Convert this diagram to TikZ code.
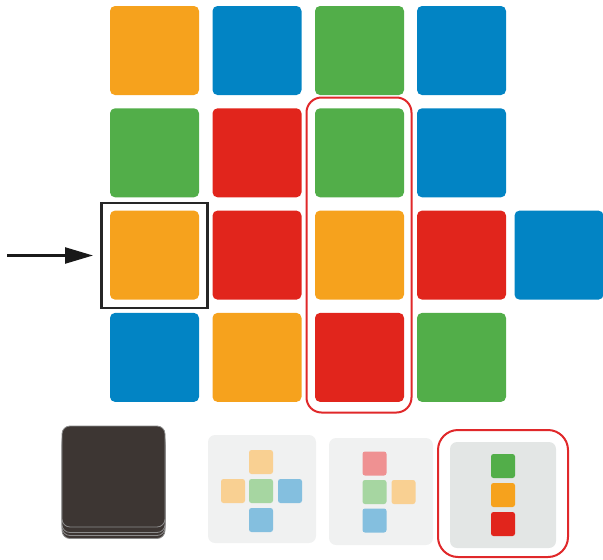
\documentclass[tikz,border=0pt]{standalone}
\usetikzlibrary{arrows.meta}
\definecolor{cOr}{HTML}{F6A21D}
\definecolor{cBl}{HTML}{0284C4}
\definecolor{cGr}{HTML}{52AE49}
\definecolor{cRd}{HTML}{E1251C}
\definecolor{pOr}{HTML}{F9D092}
\definecolor{pBl}{HTML}{84BFDF}
\definecolor{pGr}{HTML}{A6D6A1}
\definecolor{pRd}{HTML}{EF9192}
\definecolor{dark}{HTML}{3D3633}
\definecolor{cardA}{HTML}{F0F1F1}
\definecolor{cardB}{HTML}{E3E6E5}
\definecolor{frameRed}{HTML}{E0282A}
\tikzset{
  tile/.style={rectangle, rounded corners=5pt, minimum size=89pt, inner sep=0pt, fill=#1},
  mini/.style={rectangle, rounded corners=2.5pt, minimum size=24pt, inner sep=0pt, fill=#1},
  card/.style={rectangle, rounded corners=7pt, inner sep=0pt, fill=#1},
  darkcard/.style={rectangle, rounded corners=8pt, inner sep=0pt, minimum width=103pt, minimum height=101pt, fill=dark, draw=black!45, line width=0.8pt},
  redframe/.style={rectangle, draw=frameRed, line width=2pt, inner sep=0pt},
}
\begin{document}
\begin{tikzpicture}[x=1pt,y=-1pt]
\useasboundingbox (0,0) rectangle (603,560);
% grid row 0
\node[tile=cOr] (t00) at (154.5,50.5) {};
\node[tile=cBl] (t01) at (257,50.5) {};
\node[tile=cGr] (t02) at (359.5,50.5) {};
\node[tile=cBl] (t03) at (461.5,50.5) {};
% row 1
\node[tile=cGr] (t10) at (154.5,152.8) {};
\node[tile=cRd] (t11) at (257,152.8) {};
\node[tile=cGr] (t12) at (359.5,152.8) {};
\node[tile=cBl] (t13) at (461.5,152.8) {};
% row 2
\node[tile=cOr] (t20) at (154.5,255.1) {};
\node[tile=cRd] (t21) at (257,255.1) {};
\node[tile=cOr] (t22) at (359.5,255.1) {};
\node[tile=cRd] (t23) at (461.5,255.1) {};
\node[tile=cBl] (t24) at (559,255.1) {};
% row 3
\node[tile=cBl] (t30) at (154.5,357.4) {};
\node[tile=cOr] (t31) at (257,357.4) {};
\node[tile=cRd] (t32) at (359.5,357.4) {};
\node[tile=cGr] (t33) at (461.5,357.4) {};
% frames
\node[rectangle, draw=black!85, line width=2.6pt, minimum width=106pt, minimum height=105pt, inner sep=0pt] (bframe) at (154.3,255.5) {};
\node[redframe, rounded corners=15pt, minimum width=105pt, minimum height=315pt] (colframe) at (359,255) {};
% arrow
\coordinate (astart) at (7,255.5);
\draw[line width=2.4pt, black!90, -{Triangle[length=28pt,width=16pt]}, shorten >=7pt] (astart) -- (bframe.west);
% dark stack
\node[darkcard] (d4) at (113.5,488) {};
\node[darkcard] (d3) at (113.5,485) {};
\node[darkcard] (d2) at (113.5,482) {};
\node[darkcard] (d1) at (113.5,476.5) {};
% card A
\node[card=cardA, minimum width=108pt, minimum height=108pt] (cA) at (262,489) {};
\node[mini=pOr] (a1) at (261,462) {};
\node[mini=pOr] (a2) at (233,491) {};
\node[mini=pGr] (a3) at (261,491) {};
\node[mini=pBl] (a4) at (290,491) {};
\node[mini=pBl] (a5) at (261,520) {};
% card B
\node[card=cardA, minimum width=104pt, minimum height=107pt] (cB) at (381,491.5) {};
\node[mini=pRd] (b1) at (374.5,463.5) {};
\node[mini=pGr] (b2) at (374.5,492) {};
\node[mini=pOr] (b3) at (403.5,492) {};
\node[mini=pBl] (b4) at (374.5,520.5) {};
% card C
\node[card=cardB, minimum width=106pt, minimum height=106pt] (cC) at (503,495) {};
\node[mini=cGr] (c1) at (503,466) {};
\node[mini=cOr] (c2) at (503,495) {};
\node[mini=cRd] (c3) at (503,524) {};
\node[redframe, rounded corners=20pt, minimum width=130pt, minimum height=127pt] (cframe) at (503,493.5) {};
\end{tikzpicture}
\end{document}
